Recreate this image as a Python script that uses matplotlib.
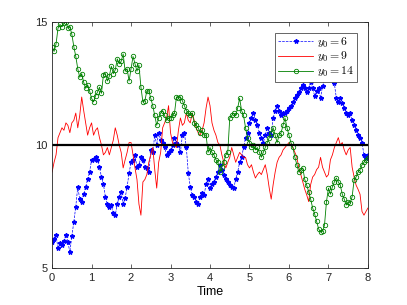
import matplotlib
matplotlib.use("Agg")
import matplotlib.pyplot as plt
import matplotlib as mb
import numpy as np

mb.rcParams["font.family"] = "Liberation Sans"
mb.rcParams["font.size"] = 8
mb.rcParams["mathtext.fontset"] = "cm"
mb.rcParams["axes.linewidth"] = 0.6
mb.rcParams["axes.edgecolor"] = "0.15"
mb.rcParams["xtick.color"] = "0.15"
mb.rcParams["ytick.color"] = "0.15"

t_start, t_end, n_pts = 0.0, 8.0, 161

# y0 = 14
green = [14.0, 13.8, 14.1, 14.75, 14.9, 14.8, 14.95, 15.0, 14.75, 14.8,
         14.5, 14.0, 13.6, 13.1, 12.75, 12.9, 12.55, 12.3, 12.45, 12.2,
         11.9, 11.75, 12.0, 12.15, 12.35, 12.1, 12.85, 12.9, 12.6, 12.8,
         13.2, 12.9, 13.05, 13.5, 13.3, 13.4, 13.7, 13.0, 13.1, 12.6,
         13.1, 13.6, 13.3, 13.0, 13.25, 12.35, 11.75, 11.8, 12.2, 12.2,
         11.9, 11.6, 11.2, 10.8, 11.1, 11.3, 11.4, 11.2, 11.0, 11.1,
         11.1, 11.2, 11.3, 11.95, 11.9, 11.95, 11.8, 11.6, 11.4, 11.3,
         11.2, 11.3, 10.9, 10.8, 10.7, 10.5, 10.6, 10.4, 10.4, 9.7,
         9.9, 9.7, 9.6, 9.4, 9.3, 8.9, 9.1, 9.3, 9.6, 9.7,
         11.1, 11.2, 11.3, 11.2, 11.5, 11.9, 11.4, 11.2, 10.7, 10.3,
         10.1, 9.9, 10.0, 9.8, 9.9, 9.7, 9.5, 9.7, 9.9, 10.1,
         10.3, 10.5, 10.7, 10.4, 10.1, 10.4, 10.5, 10.8, 11.1, 10.7,
         10.4, 10.1, 9.9, 9.5, 9.2, 8.9, 9.0, 9.07, 8.6, 8.37,
         8.1, 7.8, 7.44, 7.2, 6.9, 6.6, 6.46, 6.5, 6.75, 7.7,
         8.25, 8.0, 8.3, 8.5, 8.66, 8.5, 8.37, 8.0, 7.8, 7.56,
         7.7, 7.64, 7.9, 8.58, 8.7, 8.9, 9.0, 9.2, 9.3, 9.4,
         9.47]

# y0 = 9
red = [8.9, 9.3, 9.6, 10.3, 10.5, 10.7, 10.6, 10.9, 10.8, 10.5,
       10.9, 11.0, 11.3, 10.7, 11.2, 11.95, 11.4, 10.9, 10.4, 10.7,
       10.9, 10.4, 10.6, 10.7, 10.3, 10.0, 9.6, 9.7, 9.9, 9.6,
       9.9, 10.2, 10.7, 10.4, 10.0, 9.7, 9.07, 9.4, 9.7, 10.1,
       10.1, 9.6, 9.07, 8.6, 7.6, 7.15, 8.5, 8.6, 8.8, 9.3,
       9.6, 9.9, 9.0, 8.25, 9.3, 9.7, 10.7, 10.9, 11.1, 11.6,
       10.5, 10.1, 10.0, 9.9, 10.6, 11.1, 10.8, 10.9, 11.3, 11.0,
       10.9, 11.3, 11.0, 10.7, 10.5, 10.4, 10.6, 10.9, 11.5, 11.95,
       11.6, 10.9, 10.6, 10.4, 10.1, 10.0, 9.6, 9.3, 9.07, 9.3,
       9.5, 9.9, 9.6, 9.3, 9.5, 9.7, 9.6, 9.5, 9.5, 9.2,
       9.07, 9.2, 8.9, 8.66, 8.8, 8.9, 8.8, 9.0, 9.2, 8.8,
       8.25, 7.8, 8.4, 8.9, 9.3, 9.5, 9.6, 9.8, 9.9, 10.0,
       10.1, 10.0, 9.9, 9.7, 9.5, 9.07, 8.8, 8.5, 8.2, 7.97,
       7.7, 8.4, 8.7, 8.8, 9.0, 9.1, 9.5, 9.1, 8.9, 8.7,
       8.8, 9.4, 9.6, 9.9, 10.1, 10.3, 10.0, 10.1, 9.8, 9.6,
       9.8, 9.9, 9.1, 8.7, 8.37, 8.2, 8.0, 7.3, 7.15, 7.3,
       7.44]

# y0 = 6
blue = [6.06, 6.2, 6.34, 5.8, 6.0, 5.93, 6.1, 6.34, 6.06, 5.65,
        6.3, 6.87, 7.5, 8.3, 7.8, 7.7, 8.0, 8.3, 8.6, 8.9,
        9.4, 9.45, 9.5, 9.4, 9.1, 8.7, 8.4, 7.9, 7.6, 7.5,
        7.56, 7.24, 7.15, 7.6, 7.9, 8.1, 7.6, 7.85, 8.3, 8.86,
        9.3, 9.4, 9.6, 9.1, 9.2, 9.5, 9.4, 9.1, 9.07, 8.9,
        9.8, 9.7, 10.4, 10.0, 10.5, 10.2, 10.1, 9.9, 9.6, 9.7,
        9.8, 10.0, 10.3, 10.1, 10.0, 9.7, 10.4, 10.5, 9.9, 8.86,
        8.3, 7.97, 7.9, 7.7, 7.6, 7.9, 8.05, 7.97, 8.4, 8.6,
        8.25, 8.4, 8.5, 8.7, 8.9, 9.2, 9.0, 8.8, 8.6, 8.5,
        8.37, 8.3, 8.25, 8.6, 8.9, 9.3, 9.5, 9.9, 10.3, 10.5,
        10.9, 11.1, 11.3, 11.0, 10.8, 10.5, 10.3, 10.1, 10.4, 10.7,
        10.5, 10.4, 11.1, 11.4, 11.6, 11.4, 11.2, 11.3, 11.3, 11.4,
        11.5, 11.6, 11.75, 11.9, 12.05, 12.15, 12.3, 12.45, 12.3, 12.15,
        12.3, 12.56, 12.3, 12.0, 12.2, 12.3, 11.9, 12.4, 12.7, 12.9,
        13.1, 13.4, 13.0, 12.5, 11.9, 11.75, 11.9, 11.7, 11.5, 11.3,
        11.2, 11.3, 11.0, 10.8, 10.6, 10.4, 10.3, 10.1, 9.6, 9.47,
        9.6]

t = np.linspace(t_start, t_end, n_pts)

fig = plt.figure(figsize=(4.07, 3.05), dpi=100)
ax = fig.add_axes([0.128, 0.121, 0.776, 0.807])

ax.plot(t, blue, "--*", color="b", lw=0.5, ms=3.2, label=r"$y_0 = 6$")
ax.plot(t, red, "-", color="r", lw=0.6, label=r"$y_0 = 9$")
ax.plot(t, green, "-o", color=(0, 0.5, 0), lw=0.6, ms=3.2, mfc="none",
        mew=0.6, label=r"$y_0 = 14$")
ax.plot([t_start, t_end], [10, 10], color="k", lw=1.6)

ax.set_xlim(0, 8)
ax.set_ylim(5, 15)
ax.set_xticks(range(0, 9))
ax.set_yticks([5, 10, 15])
ax.tick_params(direction="in", top=True, right=True, length=3, width=0.5)
ax.set_xlabel("Time", fontsize=9, labelpad=2)

leg = ax.legend(loc="upper right", fontsize=8.5, fancybox=False, framealpha=1,
                edgecolor="0.3", handlelength=3.0, handletextpad=0.3,
                borderaxespad=0.9, labelspacing=0.05, borderpad=0.25)
leg.get_frame().set_linewidth(0.6)

fig.savefig("out.png", dpi=100)
